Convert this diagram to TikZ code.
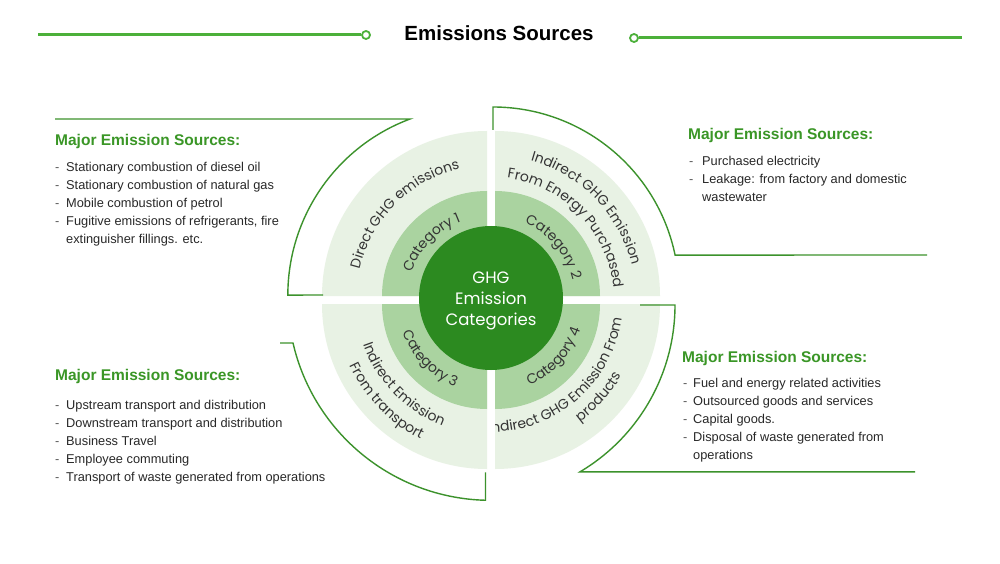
\documentclass[tikz,border=0pt]{standalone}
\usepackage{fontspec}
\setmainfont{Liberation Sans}
\newfontfamily\ringfont{Poppins}
\usetikzlibrary{decorations.text}
\definecolor{lightq}{RGB}{232,242,228}
\definecolor{midq}{RGB}{170,211,160}
\definecolor{darkc}{RGB}{44,138,32}
\definecolor{headgreen}{RGB}{58,150,38}
\definecolor{brackgreen}{RGB}{60,146,44}
\definecolor{linegreen}{RGB}{76,176,58}
\definecolor{ringtext}{RGB}{52,52,52}
\definecolor{bodytext}{RGB}{40,40,40}
\definecolor{dashgray}{RGB}{90,90,90}
\newcommand\rfont{\ringfont\fontsize{14}{14}\selectfont\color{ringtext}}
\begin{document}
\begin{tikzpicture}[x=1pt,y=1pt,
  srchead/.style={anchor=base west, inner sep=0pt, font=\fontsize{15.5}{18}\selectfont\bfseries, text=headgreen},
  srcitem/.style={anchor=base west, inner sep=0pt, font=\fontsize{12.8}{18}\selectfont, text=bodytext},
  srcdash/.style={anchor=base west, inner sep=0pt, font=\fontsize{12.8}{18}\selectfont, text=dashgray},
  bracket/.style={draw=brackgreen, line width=1.4pt},
  titleline/.style={draw=linegreen, line width=3pt},
  endring/.style={circle, draw=linegreen, fill=white, line width=1.8pt, minimum size=8pt, inner sep=0pt},
  ringtxt/.style={decorate, decoration={text along path, text align=center, text={#1}}}]
\useasboundingbox (0,0) rectangle (1000,563);
\fill[white] (0,0) rectangle (1000,563);

% title
\node[anchor=base, inner sep=0pt, font=\fontsize{20.5}{24}\selectfont\bfseries] (title) at (499,522) {Emissions Sources};
\coordinate (tla) at (38,528);
\node[endring] (tlc) at (366,528) {};
\draw[titleline] (tla) -- (tlc.west);
\node[endring] (trc) at (634,525) {};
\coordinate (trb) at (962,525);
\draw[titleline] (trc.east) -- (trb);

% quadrants
\fill[lightq] (487,267) -- (322,267) arc[start angle=180, end angle=90, radius=165pt] -- cycle;
\fill[lightq] (495,267) -- (495,432) arc[start angle=90, end angle=0, radius=165pt] -- cycle;
\fill[lightq] (487,259) -- (487,94) arc[start angle=270, end angle=180, radius=165pt] -- cycle;
\fill[lightq] (495,259) -- (660,259) arc[start angle=0, end angle=-90, radius=165pt] -- cycle;
\fill[midq] (487,267) -- (382,267) arc[start angle=180, end angle=90, radius=105pt] -- cycle;
\fill[midq] (495,267) -- (495,372) arc[start angle=90, end angle=0, radius=105pt] -- cycle;
\fill[midq] (487,259) -- (487,154) arc[start angle=270, end angle=180, radius=105pt] -- cycle;
\fill[midq] (495,259) -- (600,259) arc[start angle=0, end angle=-90, radius=105pt] -- cycle;

% ring texts
\begin{scope}
\clip (300,267) rectangle (487,450);
\path[shift={(491,263)}, ringtxt={|\rfont|Direct GHG emissions}] (195:135pt) arc[start angle=195, end angle=75, radius=135pt];
\path[shift={(491,263)}, ringtxt={|\rfont|Category 1}] (196:84pt) arc[start angle=196, end angle=76, radius=84pt];
\end{scope}
\begin{scope}
\clip (495,267) rectangle (700,450);
\path[shift={(491,263)}, ringtxt={|\rfont|Indirect GHG Emission}] (104:145pt) arc[start angle=104, end angle=-16, radius=145pt];
\path[shift={(491,263)}, ringtxt={|\rfont|From Energy Purchased}] (104:123pt) arc[start angle=104, end angle=-16, radius=123pt];
\path[shift={(491,263)}, ringtxt={|\rfont|Category 2}] (100:84pt) arc[start angle=100, end angle=-20, radius=84pt];
\end{scope}
\begin{scope}
\clip (300,259) rectangle (487,60);
\path[shift={(491,263)}, ringtxt={|\rfont|Indirect Emission}] (164:135pt) arc[start angle=164, end angle=284, radius=135pt];
\path[shift={(491,263)}, ringtxt={|\rfont|From transport}] (164:156pt) arc[start angle=164, end angle=284, radius=156pt];
\path[shift={(491,263)}, ringtxt={|\rfont|Category 3}] (164:94pt) arc[start angle=164, end angle=284, radius=94pt];
\end{scope}
\begin{scope}
\clip (495,259) rectangle (700,60);
\path[shift={(491,263)}, ringtxt={|\rfont|Indirect GHG Emission From}] (250.5:132pt) arc[start angle=250.5, end angle=370.5, radius=132pt];
\path[shift={(491,263)}, ringtxt={|\rfont|products}] (258:151pt) arc[start angle=258, end angle=378, radius=151pt];
\path[shift={(491,263)}, ringtxt={|\rfont|Category 4}] (258:94pt) arc[start angle=258, end angle=378, radius=94pt];
\end{scope}

% centre
\fill[darkc] (491,265) circle[radius=72pt];
\node[font=\ringfont\fontsize{16.5}{21}\selectfont, text=white, align=center, inner sep=0pt] (ctr) at (491,262) {GHG\\Emission\\Categories};

% brackets
\draw[bracket] (55,444) -- (410,444) arc[start angle=110.5, end angle=180, radius=188pt] -- (323,268);
\draw[bracket] (493,433) -- (493,456) arc[start angle=90, end angle=11.76, radius=186pt] -- (927,308);
\draw[bracket] (280,220) -- (293,220) arc[start angle=193, end angle=268.5, radius=203pt] -- ++(0,28);
\draw[bracket] (640,258) -- (675,258) arc[start angle=0, end angle=-59.3, radius=194pt] -- ++(335,0);

% upper left list
\node[srchead] (ulh) at (55,417.5) {Major Emission Sources:};
\node[srcdash] (uld1) at (55,391.5) {-};
\node[srcitem] (uli1) at (66,391.5) {Stationary combustion of diesel oil};
\node[srcdash] (uld2) at (55,373.5) {-};
\node[srcitem] (uli2) at (66,373.5) {Stationary combustion of natural gas};
\node[srcdash] (uld3) at (55,355.5) {-};
\node[srcitem] (uli3) at (66,355.5) {Mobile combustion of petrol};
\node[srcdash] (uld4) at (55,337.5) {-};
\node[srcitem] (uli4) at (66,337.5) {Fugitive emissions of refrigerants, fire};
\node[srcitem] (uli5) at (66,319.5) {extinguisher fillings. etc.};

% upper right list
\node[srchead] (urh) at (688,423) {Major Emission Sources:};
\node[srcdash] (urd1) at (689,397) {-};
\node[srcitem] (uri1) at (702,397) {Purchased electricity};
\node[srcdash] (urd2) at (689,379) {-};
\node[srcitem] (uri2) at (702,379) {Leakage: from factory and domestic};
\node[srcitem] (uri3) at (702,361) {wastewater};

% lower left list
\node[srchead] (llh) at (55,183) {Major Emission Sources:};
\node[srcdash] (lld1) at (55,154) {-};
\node[srcitem] (lli1) at (66,154) {Upstream transport and distribution};
\node[srcdash] (lld2) at (55,136) {-};
\node[srcitem] (lli2) at (66,136) {Downstream transport and distribution};
\node[srcdash] (lld3) at (55,118) {-};
\node[srcitem] (lli3) at (66,118) {Business Travel};
\node[srcdash] (lld4) at (55,100) {-};
\node[srcitem] (lli4) at (66,100) {Employee commuting};
\node[srcdash] (lld5) at (55,82) {-};
\node[srcitem] (lli5) at (66,82) {Transport of waste generated from operations};

% lower right list
\node[srchead] (lrh) at (682,201) {Major Emission Sources:};
\node[srcdash] (lrd1) at (683,176) {-};
\node[srcitem] (lri1) at (693,176) {Fuel and energy related activities};
\node[srcdash] (lrd2) at (683,158) {-};
\node[srcitem] (lri2) at (693,158) {Outsourced goods and services};
\node[srcdash] (lrd3) at (683,140) {-};
\node[srcitem] (lri3) at (693,140) {Capital goods.};
\node[srcdash] (lrd4) at (683,122) {-};
\node[srcitem] (lri4) at (693,122) {Disposal of waste generated from};
\node[srcitem] (lri5) at (693,104) {operations};
\end{tikzpicture}
\end{document}
